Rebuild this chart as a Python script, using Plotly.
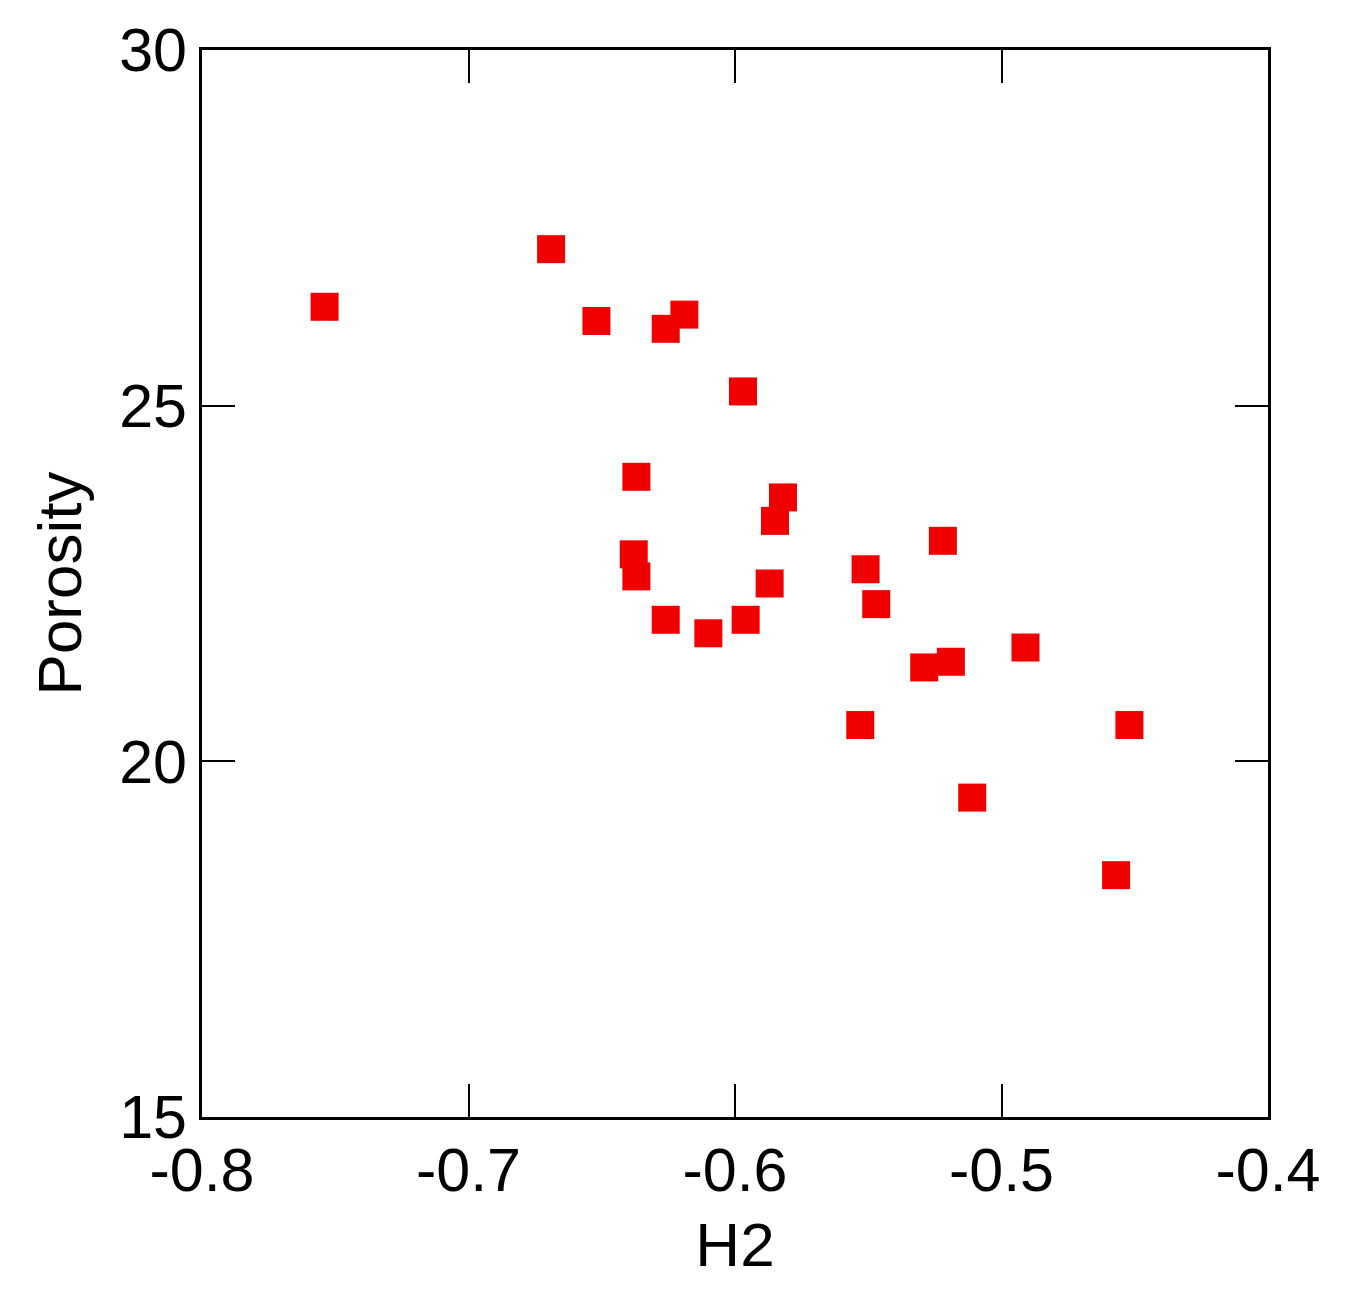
import plotly.graph_objects as go

# H2 vs porosity samples
h2 = [-0.754, -0.669, -0.652, -0.626, -0.619, -0.597, -0.637, -0.582, -0.585,
      -0.638, -0.637, -0.626, -0.610, -0.596, -0.587, -0.551, -0.547, -0.522,
      -0.529, -0.519, -0.491, -0.553, -0.452, -0.511, -0.457]
porosity = [26.39, 27.20, 26.19, 26.08, 26.28, 25.20, 24.00, 23.71, 23.38,
            22.91, 22.60, 21.99, 21.80, 21.99, 22.50, 22.70, 22.21, 23.10,
            21.32, 21.40, 21.60, 20.51, 20.51, 19.49, 18.40]

x_ticks = [-0.8, -0.7, -0.6, -0.5, -0.4]
y_ticks = [15, 20, 25, 30]

FONT = "Arial, Liberation Sans, sans-serif"

fig = go.Figure(go.Scatter(
    x=h2,
    y=porosity,
    mode="markers",
    marker=dict(symbol="square", size=28, color="#F00000",
                line=dict(width=0)),
    showlegend=False,
))

axis_common = dict(
    showline=True, linecolor="black", linewidth=2.5, mirror="ticks",
    ticks="inside", ticklen=33, tickwidth=1.5, tickcolor="black",
    showgrid=False, zeroline=False, automargin=False,
    tickfont=dict(family=FONT, size=61, color="black"),
)

fig.update_layout(
    xaxis=dict(
        range=[-0.8, -0.4], tickvals=x_ticks,
        ticktext=[f"{v:g}" for v in x_ticks],
        ticklabelstandoff=-2,
        title=dict(text="H2", font=dict(family=FONT, size=62, color="black"),
                   standoff=20),
        **axis_common,
    ),
    yaxis=dict(
        range=[15, 30], tickvals=y_ticks,
        title=dict(text="Porosity", font=dict(family=FONT, size=62, color="black"),
                   standoff=18),
        **axis_common,
    ),
    width=1353, height=1301,
    margin=dict(l=194, r=93, t=42, b=192),
    paper_bgcolor="white",
    plot_bgcolor="white",
)

fig.write_html("out.html")
